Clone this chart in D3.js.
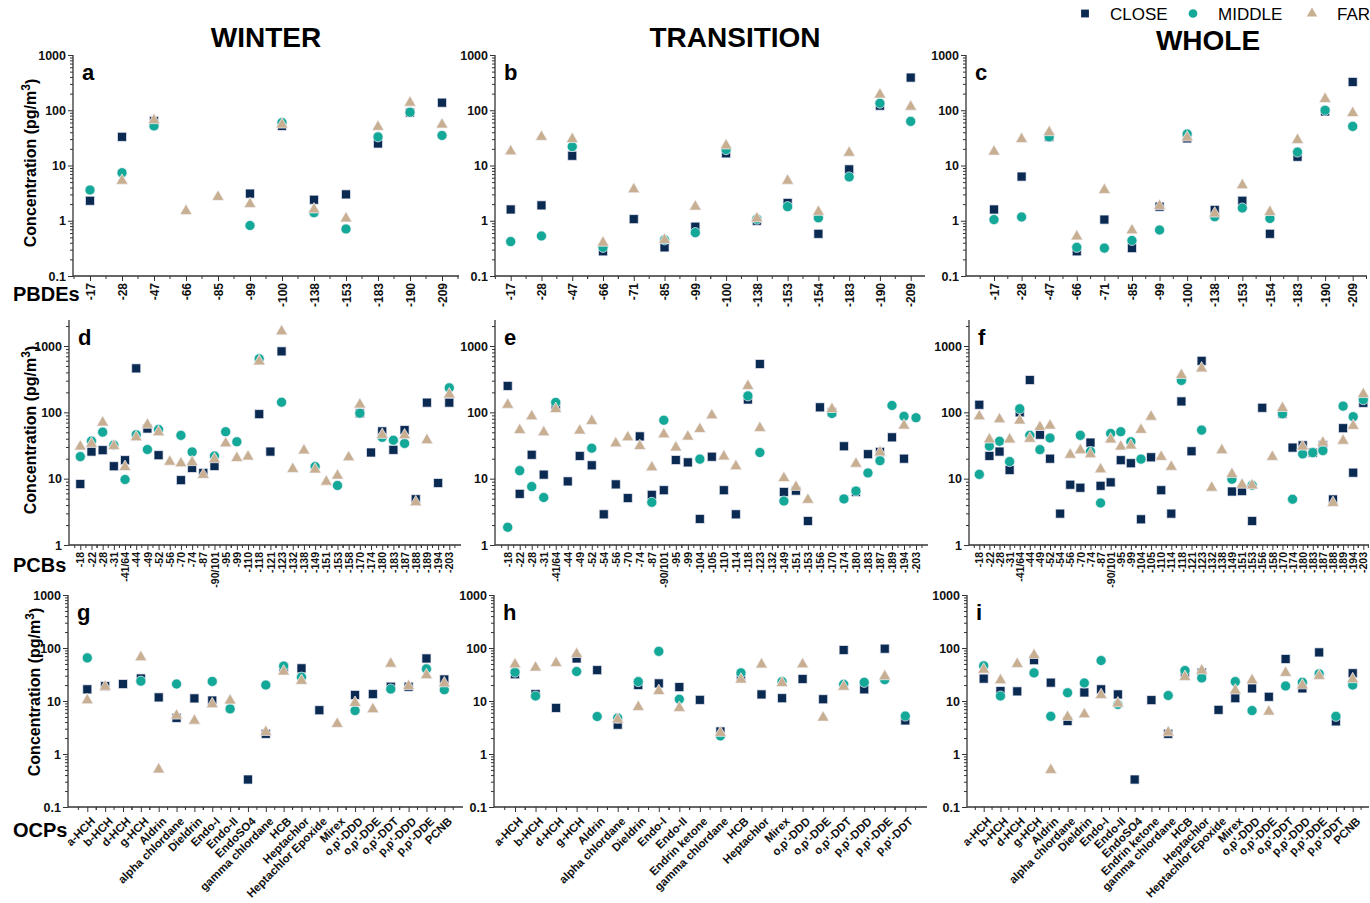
<html>
<head>
<title>PBDEs, PCBs and OCPs by season</title>
<script src="https://d3js.org/d3.v7.min.js"></script>
<style>
  body { margin: 0; background: #fff; }
  svg { font-family: Arial, "Liberation Sans", sans-serif; }
  .tick text { font-weight: bold; fill: #111; }
  .tick line { stroke: #333; }
</style>
</head>
<body>
<script>
// ---------- PBDEs ----------
var pbdeWinterCats = ["-17","-28","-47","-66","-85","-99","-100","-138","-153","-183","-190","-209"];
var pbdeWinterClose  = [2.3, 33, 64, null, null, 3.1, 52, 2.4, 3.0, 25, 91, 137];
var pbdeWinterMiddle = [3.6, 7.4, 52, null, null, 0.82, 60, 1.4, 0.71, 33, 92, 35];
var pbdeWinterFar    = [null, 5.3, 66, 1.5, 2.7, 2.0, 55, 1.6, 1.1, 50, 137, 55];

var pbdeTransCats = ["-17","-28","-47","-66","-71","-85","-99","-100","-138","-153","-154","-183","-190","-209"];
var pbdeTransClose  = [1.6, 1.9, 15, 0.28, 1.07, 0.33, 0.78, 16.6, 1.0, 2.1, 0.58, 8.5, 121, 390];
var pbdeTransMiddle = [0.42, 0.53, 22, 0.33, null, 0.45, 0.61, 19.4, 1.07, 1.8, 1.13, 6.2, 134, 63];
var pbdeTransFar    = [18, 33, 30, 0.40, 3.7, 0.45, 1.8, 23, 1.1, 5.3, 1.45, 17, 192, 116];

var pbdeWholeCats = ["-17","-28","-47","-66","-71","-85","-99","-100","-138","-153","-154","-183","-190","-209"];
var pbdeWholeClose  = [1.6, 6.3, 33, 0.28, 1.05, 0.32, 1.8, 31, 1.57, 2.3, 0.58, 14.4, 95, 325];
var pbdeWholeMiddle = [1.05, 1.17, 33, 0.33, 0.32, 0.44, 0.68, 37, 1.18, 1.7, 1.1, 17.5, 100, 51];
var pbdeWholeFar    = [17.8, 30, 40, 0.52, 3.6, 0.67, 1.85, 32, 1.35, 4.4, 1.44, 29, 160, 89];

// ---------- PCBs ----------
var pcbWinterCats = ["-18","-22","-28","-31","-41/64","-44","-49","-52","-56","-70","-74","-87","-90/101","-95","-99","-110","-118","-121","-123","-132","-138","-149","-151","-153","-158","-170","-174","-180","-183","-187","-188","-189","-194","-203"];
var pcbWinterClose  = [8.3, 25.6, 26.9, 15.4, 19, 460, 57, 22.6, null, 9.5, 14.5, 12.2, 15.5, null, null, null, 94, 25.6, 830, null, null, null, null, null, null, 97, 24.8, 51.6, 27.2, 54, 4.9, 140, 8.6, 140];
var pcbWinterMiddle = [21.5, 36.8, 50.3, 32, 9.7, 46, 27.5, 55, null, 45, 25.3, null, 22, 51, 36, null, 640, null, 142, null, null, 15.2, null, 7.9, null, 97, null, 42, 38, 34, null, null, null, 234];
var pcbWinterFar    = [30.5, 33.5, 70, 31, 15, 42, 65, 50, 18, 17, 17.7, 11.4, 19.6, 34, 20.5, 21.5, 585, null, 1660, 14, 26.6, 13.7, 9.0, 11.1, 21, 131, null, 45.7, null, 45, 4.4, 38, null, 186];

var pcbTransCats = ["-18","-22","-28","-31","-41/64","-44","-49","-52","-54","-56","-70","-74","-87","-90/101","-95","-99","-104","-105","-110","-114","-118","-123","-132","-149","-151","-153","-156","-170","-174","-180","-183","-187","-189","-194","-203"];
var pcbTransClose  = [250, 5.9, 22.9, 11.5, 120, 9.1, 22, 15.9, 2.9, 8.2, 5.1, 43.4, 5.7, 6.7, 19.1, 17.6, 2.47, 21.4, 6.7, 2.9, 156, 535, null, 6.3, 6.6, 2.3, 119, 100, 30.8, 6.3, 23.4, 25.3, 42, 20, null];
var pcbTransMiddle = [1.85, 13.2, 7.6, 5.2, 141, null, null, 28.8, null, null, null, null, 4.4, 76, null, null, 19.7, null, null, null, 177, 24.8, null, 4.6, null, null, null, 96, 4.95, 6.5, 12.2, 18.7, 127, 87, 83];
var pcbTransFar    = [130, 54, 87, 50, 112, null, 53, 74, null, 34, 42, 31, 14.8, 46.5, 29.5, 43, 56, 90, 21.6, 15.4, 250, 58, null, 10.2, 7.5, 4.8, null, 112, null, 16.8, null, 25, null, 63, null];

var pcbWholeCats = ["-18","-22","-28","-31","-41/64","-44","-49","-52","-54","-56","-70","-74","-87","-90/101","-95","-99","-104","-105","-110","-114","-118","-121","-123","-132","-138","-149","-151","-153","-156","-158","-170","-174","-180","-183","-187","-188","-189","-194","-203"];
var pcbWholeClose  = [130, 22, 25.6, 13.5, 100, 307, 46, 20, 2.97, 8.1, 7.3, 35, 7.8, 8.8, 19, 17.1, 2.44, 21, 6.7, 2.97, 146, 25.9, 597, null, null, 6.4, 6.5, 2.3, 117, null, 95.6, 29.4, 31.8, 24.7, 32, 4.86, 57.7, 12.3, 139];
var pcbWholeMiddle = [11.6, 31, 36.6, 18.1, 113, 45, 27.4, 41, null, null, 45, 25.6, 4.3, 48, 51, 36, 19.7, null, null, null, 303, null, 54, null, null, 9.8, null, 7.95, null, null, 95, 4.9, 23.6, 24.7, 26.5, null, 124, 86, 155];
var pcbWholeFar    = [87, 39, 78.5, 39, 75, 40, 60, 63, null, 23, 26.8, 23.3, 13.8, 39, 30.4, 31.5, 54.5, 86, 21.3, 15.1, 365, null, 459, 7.3, 26.8, 11.7, 8.1, 7.9, null, 21.3, 116, null, 30.4, null, 34.9, 4.3, 37.3, 62.5, 188];

// ---------- OCPs ----------
var ocpWinterCats = ["a-HCH","b-HCH","d-HCH","g-HCH","Aldrin","alpha chlordane","Dieldrin","Endo-I","Endo-II","EndoSO4","gamma chlordane","HCB","Heptachlor","Heptachlor Epoxide","Mirex","o,p'-DDD","o,p'-DDE","o,p'-DDT","p,p'-DDD","p,p'-DDE","PCNB"];
var ocpWinterClose  = [16.6, 19.1, 20.9, 26.6, 11.7, 4.8, 11.2, 10.2, null, 0.33, 2.4, 43, 41.4, 6.7, null, 13, 13.5, 18.6, 18.6, 63.5, 25.5];
var ocpWinterMiddle = [65, null, null, 23.7, null, 20.9, null, 23.4, 7.1, null, 20, 45.6, 28.2, null, null, 6.6, null, 16.8, null, 40.3, 16.3];
var ocpWinterFar    = [10.3, 18.6, null, 67, 0.51, 5.3, 4.25, 8.7, 10.2, null, 2.6, 35.9, 24, null, 3.7, 9.2, 7.0, 50.6, 19.1, 30.7, 21.5];

var ocpTransCats = ["a-HCH","b-HCH","d-HCH","g-HCH","Aldrin","alpha chlordane","Dieldrin","Endo-I","Endo-II","Endrin ketone","gamma chlordane","HCB","Heptachlor","Mirex","o,p'-DDD","o,p'-DDE","o,p'-DDT","p,p'-DDD","p,p'-DDE","p,p'-DDT"];
var ocpTransClose  = [32, 13.5, 7.4, 63.5, 38.2, 3.57, 20, 21.5, 18.3, 10.5, 2.66, 28.4, 13.3, 11.3, 26, 10.8, 91.6, 16.6, 97, 4.3];
var ocpTransMiddle = [35, 12.4, null, 36, 5.1, 4.78, 23.2, 86.4, 10.8, null, 2.2, 33.9, null, 23.2, null, null, 20.6, 22.5, 25.3, 5.2];
var ocpTransFar    = [49, 42.7, 51.8, 77, null, 4.45, 7.7, 15.4, 7.4, null, 2.5, 25.3, 48.9, 21.8, 49, 4.85, 18.6, null, 29.3, null];

var ocpWholeCats = ["a-HCH","b-HCH","d-HCH","g-HCH","Aldrin","alpha chlordane","Dieldrin","Endo-I","Endo-II","EndoSO4","Endrin ketone","gamma chlordane","HCB","Heptachlor","Heptachlor Epoxide","Mirex","o,p'-DDD","o,p'-DDE","o,p'-DDT","p,p'-DDD","p,p'-DDE","p,p'-DDT","PCNB"];
var ocpWholeClose  = [26.4, 15.4, 15.2, 59, 22.2, 4.19, 14.5, 16.6, 13.3, 0.33, 10.4, 2.4, 34, 34.4, 6.8, 11.3, 17.3, 12, 62, 17.3, 82.6, 4.13, 33.4];
var ocpWholeMiddle = [46, 12.4, null, 33.9, 5.14, 14.3, 21.9, 58, 8.6, null, null, 12.7, 37.6, 27.2, null, 23.2, 6.6, null, 19.2, 22.5, 32.5, 5.14, 20];
var ocpWholeFar    = [39, 24.6, 50, 73.6, 0.5, 5.0, 5.6, 12.9, 9.0, null, null, 2.55, 28.4, 37.6, null, 15.8, 24.6, 6.3, 33.9, 19.7, 29.7, null, 25.7];

var seasons = ["WINTER", "TRANSITION", "WHOLE"];
var groups = ["PBDEs", "PCBs", "OCPs"];
var seriesNames = ["CLOSE", "MIDDLE", "FAR"];

// ---------- layout ----------
var colors = { CLOSE: "#0b2a52", MIDDLE: "#14a898", FAR: "#c9af92" };
var shapes = { CLOSE: d3.symbolSquare, MIDDLE: d3.symbolCircle, FAR: d3.symbolTriangle };
var sizes  = { CLOSE: 82, MIDDLE: 80, FAR: 62 };

// y: scale domain/range per row, axisTop = pixel where the axis line ends
var rows = [
  { dMin: 0.1, dMax: 1000, bottom: 276, top: 55,  axisTop: 55,  xFont: 12,   rot: -90, titleY: 163, titleX: 36, groupY: 301 },
  { dMin: 1,   dMax: 1000, bottom: 545, top: 346, axisTop: 320, xFont: 10.5, rot: -90, titleY: 430, titleX: 36, groupY: 572 },
  { dMin: 0.1, dMax: 1000, bottom: 807, top: 595, axisTop: 595, xFont: 11.5, rot: -45, titleY: 692, titleX: 40, groupY: 837 }
];

// x: axis extent and first / last category position
var panels = [
  { id: "a", row: 0, x0: 73,  x1: 459,  p0: 90,    p1: 442,    cats: pbdeWinterCats, close: pbdeWinterClose, middle: pbdeWinterMiddle, far: pbdeWinterFar },
  { id: "b", row: 0, x0: 495, x1: 925,  p0: 510.7, p1: 910.7,  cats: pbdeTransCats,  close: pbdeTransClose,  middle: pbdeTransMiddle,  far: pbdeTransFar },
  { id: "c", row: 0, x0: 966, x1: 1367, p0: 994,   p1: 1352.7, cats: pbdeWholeCats,  close: pbdeWholeClose,  middle: pbdeWholeMiddle,  far: pbdeWholeFar },
  { id: "d", row: 1, x0: 69,  x1: 461,  p0: 80.3,  p1: 449.3,  cats: pcbWinterCats,  close: pcbWinterClose,  middle: pcbWinterMiddle,  far: pcbWinterFar },
  { id: "e", row: 1, x0: 495, x1: 928,  p0: 507.7, p1: 916,    cats: pcbTransCats,   close: pcbTransClose,   middle: pcbTransMiddle,   far: pcbTransFar },
  { id: "f", row: 1, x0: 969, x1: 1369, p0: 979.3, p1: 1363.3, cats: pcbWholeCats,   close: pcbWholeClose,   middle: pcbWholeMiddle,   far: pcbWholeFar },
  { id: "g", row: 2, x0: 68,  x1: 463,  p0: 87.3,  p1: 444.3,  cats: ocpWinterCats,  close: ocpWinterClose,  middle: ocpWinterMiddle,  far: ocpWinterFar },
  { id: "h", row: 2, x0: 494, x1: 927,  p0: 515,   p1: 905.3,  cats: ocpTransCats,   close: ocpTransClose,   middle: ocpTransMiddle,   far: ocpTransFar },
  { id: "i", row: 2, x0: 967, x1: 1369, p0: 983.7, p1: 1352.7, cats: ocpWholeCats,   close: ocpWholeClose,   middle: ocpWholeMiddle,   far: ocpWholeFar }
];

var svg = d3.select("body").append("svg")
  .attr("width", 1370)
  .attr("height", 903);

// season titles
var titleX = [266, 735, 1208], titleY = [47, 47, 50];
seasons.forEach(function(s, i){
  svg.append("text")
    .attr("x", titleX[i]).attr("y", titleY[i])
    .attr("text-anchor", "middle")
    .style("font-size", "28px").style("font-weight", "bold")
    .text(s);
});

// legend
var legendX = [1085, 1193, 1312];
seriesNames.forEach(function(s, i){
  svg.append("path")
    .attr("d", d3.symbol().type(shapes[s]).size(sizes[s] * 0.75)())
    .attr("transform", "translate(" + legendX[i] + ",13.5)")
    .attr("fill", colors[s]);
  svg.append("text")
    .attr("x", legendX[i] + 25).attr("y", 20)
    .style("font-size", "17px")
    .text(s);
});

// row labels + y titles
rows.forEach(function(r, i){
  svg.append("text")
    .attr("x", 13).attr("y", r.groupY)
    .style("font-size", "20px").style("font-weight", "bold")
    .text(groups[i]);
  var t = svg.append("text")
    .attr("transform", "translate(" + r.titleX + "," + r.titleY + ") rotate(-90)")
    .attr("text-anchor", "middle")
    .style("font-size", "16px").style("font-weight", "bold");
  t.append("tspan").text("Concentration (pg/m");
  t.append("tspan").attr("dy", "-0.5em").style("font-size", "12px").text("3");
  t.append("tspan").attr("dy", "0.45em").text(")");
});

panels.forEach(function(p){
  var r = rows[p.row];
  var x = d3.scalePoint().domain(p.cats).range([p.p0, p.p1]);
  var y = d3.scaleLog().domain([r.dMin, r.dMax]).range([r.bottom, r.top]);
  var yTopVal = y.invert(r.axisTop);
  var g = svg.append("g");

  // axis lines
  g.append("line").attr("x1", p.x0).attr("x2", p.x1).attr("y1", r.bottom).attr("y2", r.bottom)
    .attr("stroke", "#333").attr("stroke-width", 1.3);
  g.append("line").attr("x1", p.x0).attr("x2", p.x0).attr("y1", r.bottom).attr("y2", r.axisTop)
    .attr("stroke", "#333").attr("stroke-width", 1.3);

  // y ticks
  var major = [], minor = [];
  for (var e = Math.log10(r.dMin); e <= Math.log10(yTopVal); e++) {
    var v = Math.pow(10, e);
    if (v <= yTopVal * 1.0001) major.push(+v.toPrecision(3));
    for (var k = 2; k < 10; k++) if (k * v <= yTopVal) minor.push(k * v);
  }
  g.append("g").attr("transform", "translate(" + p.x0 + ",0)")
    .call(d3.axisLeft(y).tickValues(minor).tickSize(3).tickFormat(""))
    .call(function(s){ s.select(".domain").remove(); });
  g.append("g").attr("transform", "translate(" + p.x0 + ",0)")
    .call(d3.axisLeft(y).tickValues(major).tickSize(5).tickPadding(2).tickFormat(d3.format("~g")))
    .call(function(s){
      s.select(".domain").remove();
      s.selectAll("text").style("font-size", "12.5px").style("font-family", "Arial, 'Liberation Sans', sans-serif");
    });

  // x minor ticks (between categories)
  var step = x.step();
  var mids = [];
  p.cats.forEach(function(c){
    [-0.5, 0.5].forEach(function(o){
      var m = x(c) + o * step;
      if (m >= p.x0 && m <= p.x1 && mids.indexOf(m) < 0) mids.push(m);
    });
  });
  g.selectAll(".xminor").data(mids).join("line")
    .attr("x1", function(d){ return d; }).attr("x2", function(d){ return d; })
    .attr("y1", r.bottom).attr("y2", r.bottom + 3)
    .attr("stroke", "#333");

  // x axis with category labels
  var xa = g.append("g").attr("transform", "translate(0," + r.bottom + ")")
    .call(d3.axisBottom(x).tickSize(5))
    .call(function(s){ s.select(".domain").remove(); });
  var lbl = xa.selectAll("text")
    .style("font-size", r.xFont + "px")
    .style("font-family", "Arial, 'Liberation Sans', sans-serif")
    .attr("text-anchor", "end");
  if (r.rot === -90) {
    lbl.attr("x", -7).attr("y", 0).attr("dy", "0.35em").attr("transform", "rotate(-90)");
  } else {
    lbl.attr("x", 0).attr("y", 0).attr("dy", 0).attr("transform", "translate(8,15) rotate(-45)");
  }

  // panel letter
  g.append("text")
    .attr("x", p.x0 + 9).attr("y", r.axisTop + 25)
    .style("font-size", "22px").style("font-weight", "bold")
    .text(p.id);

  // markers
  var series = [["CLOSE", p.close], ["MIDDLE", p.middle], ["FAR", p.far]];
  series.forEach(function(sr){
    var name = sr[0], vals = sr[1];
    var pts = p.cats.map(function(c, i){ return { c: c, v: vals[i] }; })
      .filter(function(d){ return d.v != null; });
    g.selectAll(".m-" + name).data(pts).join("path")
      .attr("d", d3.symbol().type(shapes[name]).size(sizes[name]))
      .attr("transform", function(d){ return "translate(" + x(d.c) + "," + y(d.v) + ")"; })
      .attr("fill", colors[name])
      .attr("stroke", "#f4f4fa")
      .attr("stroke-width", 0.7);
  });
});
</script>
</body>
</html>
